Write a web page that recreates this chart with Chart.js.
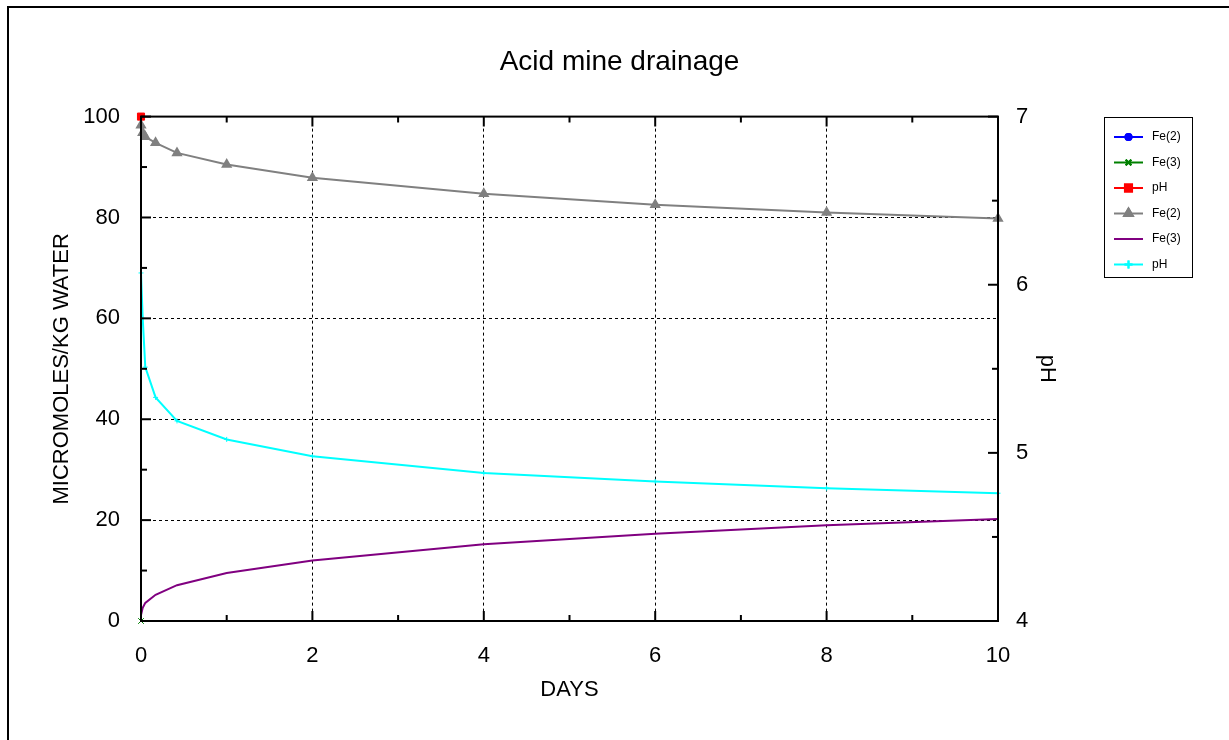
<!DOCTYPE html>
<html>
<head>
<meta charset="utf-8">
<script src="https://cdn.jsdelivr.net/npm/chart.js@4/dist/chart.umd.min.js"></script>
<style>
  html, body { margin: 0; padding: 0; background: #fff; }
  #wrap { width: 1229px; height: 740px; position: relative; }
</style>
</head>
<body>
<div id="wrap"><canvas id="chart"></canvas></div>
<script>
// data
var days = [0, 0.02, 0.05, 0.17, 0.42, 1, 2, 4, 6, 8, 10];
var fe2 = [98.3, 96.8, 96.0, 94.8, 92.8, 90.5, 87.9, 84.7, 82.5, 81.0, 79.8];
var fe3 = [1.2, 2.6, 3.6, 5.2, 7.1, 9.5, 12.0, 15.2, 17.3, 19.0, 20.2];
var ph = [6.07, 5.80, 5.51, 5.33, 5.19, 5.08, 4.98, 4.88, 4.83, 4.79, 4.76];
// initial values (single points at day 0)
var fe2Start = 100;
var fe3Start = 0;
var phStart = 7;

var xTicks = [0, 2, 4, 6, 8, 10];
var yTicks = [0, 20, 40, 60, 80, 100];
var y2Ticks = [4, 5, 6, 7];

function pts(xs, ys) {
    var out = [];
    for (var i = 0; i < xs.length; i++) out.push({ x: xs[i], y: ys[i] });
    return out;
}

var FONT = 'Liberation Sans, Arial, sans-serif';

// frame, inward ticks and the boxed legend
var gnuFrame = {
    id: 'gnuFrame',
    afterDraw: function (chart) {
        var ctx = chart.ctx;
        var a = chart.chartArea;
        var sx = chart.scales.x, sy = chart.scales.y, sy2 = chart.scales.y2;
        ctx.save();
        // outer page border
        ctx.strokeStyle = '#000';
        ctx.lineWidth = 2;
        ctx.beginPath();
        ctx.moveTo(8, 745);
        ctx.lineTo(8, 7);
        ctx.lineTo(1235, 7);
        ctx.stroke();

        ctx.lineWidth = 2;
        ctx.strokeRect(a.left, a.top, a.right - a.left, a.bottom - a.top);

        function hTick(v, len) {
            var px = sx.getPixelForValue(v);
            ctx.beginPath();
            ctx.moveTo(px, a.bottom); ctx.lineTo(px, a.bottom - len);
            ctx.moveTo(px, a.top); ctx.lineTo(px, a.top + len);
            ctx.stroke();
        }
        for (var v = 0; v <= 10; v++) hTick(v, v % 2 === 0 ? 10 : 6);
        for (var w = 0; w <= 100; w += 10) {
            var py = sy.getPixelForValue(w);
            var len = w % 20 === 0 ? 10 : 6;
            ctx.beginPath();
            ctx.moveTo(a.left, py); ctx.lineTo(a.left + len, py);
            ctx.stroke();
        }
        for (var p = 4; p <= 7; p += 0.5) {
            var py2 = sy2.getPixelForValue(p);
            var len2 = p % 1 === 0 ? 10 : 6;
            ctx.beginPath();
            ctx.moveTo(a.right, py2); ctx.lineTo(a.right - len2, py2);
            ctx.stroke();
        }

        // legend
        var lx = 1104, ly = 117, lw = 88, lh = 160;
        ctx.lineWidth = 1;
        ctx.strokeRect(lx + 0.5, ly + 0.5, lw, lh);
        ctx.font = '12px ' + FONT;
        ctx.textBaseline = 'middle';
        ctx.textAlign = 'left';
        chart.data.datasets.forEach(function (ds, i) {
            var yy = 137 + i * 25.5;
            ctx.strokeStyle = ds.borderColor;
            ctx.lineWidth = 2;
            ctx.beginPath();
            ctx.moveTo(1114, yy); ctx.lineTo(1143, yy);
            ctx.stroke();
            if (ds.legendMarker) {
                Chart.helpers.drawPoint(ctx, {
                    pointStyle: ds.pointStyle,
                    radius: ds.legendRadius || 4,
                    borderWidth: 1.5
                }, 1128.5, yy);
                ctx.fillStyle = ds.borderColor;
                ctx.fill();
                ctx.stroke();
            }
            ctx.fillStyle = '#000';
            ctx.fillText(ds.label, 1152, yy);
        });
        ctx.restore();
    }
};

var ctx = document.getElementById('chart').getContext('2d');
var chart = new Chart(ctx, {
    type: 'scatter',
    data: {
        datasets: [{
            label: 'Fe(2)',
            data: [{ x: 0, y: fe2Start }],
            yAxisID: 'y',
            order: 10,
            borderColor: '#0000ff',
            backgroundColor: '#0000ff',
            pointStyle: 'circle',
            pointRadius: 3,
            legendMarker: true, legendRadius: 3
        }, {
            label: 'Fe(3)',
            data: [{ x: 0, y: fe3Start }],
            yAxisID: 'y',
            borderColor: '#008000',
            backgroundColor: '#008000',
            pointStyle: 'crossRot',
            pointRadius: 4,
            pointBorderWidth: 1,
            legendMarker: true, legendRadius: 4
        }, {
            label: 'pH',
            data: [{ x: 0, y: phStart }],
            yAxisID: 'y2',
            borderColor: '#ff0000',
            backgroundColor: '#ff0000',
            pointStyle: 'rect',
            pointRadius: 5,
            legendMarker: true, legendRadius: 5
        }, {
            label: 'Fe(2)',
            data: pts(days, fe2),
            yAxisID: 'y',
            showLine: true,
            borderColor: '#808080',
            backgroundColor: '#808080',
            borderWidth: 2,
            pointStyle: 'triangle',
            pointRadius: 4.5,
            legendMarker: true, legendRadius: 5
        }, {
            label: 'Fe(3)',
            data: pts(days, fe3),
            yAxisID: 'y',
            showLine: true,
            borderColor: '#800080',
            backgroundColor: '#800080',
            borderWidth: 2,
            pointRadius: 0,
            legendMarker: false
        }, {
            label: 'pH',
            data: pts(days, ph),
            yAxisID: 'y2',
            showLine: true,
            borderColor: '#00ffff',
            backgroundColor: '#00ffff',
            borderWidth: 2,
            pointStyle: 'cross',
            pointRadius: 2.5,
            pointBorderWidth: 1,
            legendMarker: true, legendRadius: 4
        }]
    },
    options: {
        responsive: true,
        maintainAspectRatio: false,
        animation: false,
        clip: false,
        layout: { padding: { left: 10, right: 0, top: 0, bottom: 0 } },
        elements: { line: { tension: 0 } },
        plugins: {
            legend: { display: false },
            tooltip: { enabled: false },
            title: {
                display: true,
                text: 'Acid mine drainage',
                color: '#000',
                font: { family: FONT, size: 28, weight: 'normal' },
                padding: { top: 45, bottom: 38 }
            }
        },
        scales: {
            x: {
                type: 'linear',
                min: 0, max: 10,
                afterBuildTicks: function (s) { s.ticks = xTicks.map(function (v) { return { value: v }; }); },
                afterFit: function (s) { s.height = 119; },
                ticks: { color: '#000', font: { family: FONT, size: 22 }, padding: 22, maxRotation: 0 },
                grid: { color: '#000', lineWidth: 1, drawTicks: false },
                border: { display: false, dash: [3, 3] },
                title: { display: true, text: 'DAYS', color: '#000', font: { family: FONT, size: 22 }, padding: { top: 0, bottom: 37 } }
            },
            y: {
                type: 'linear',
                position: 'left',
                min: 0, max: 100,
                afterBuildTicks: function (s) { s.ticks = yTicks.map(function (v) { return { value: v }; }); },
                afterFit: function (s) { s.width = 131; },
                ticks: { color: '#000', font: { family: FONT, size: 22 }, padding: 21 },
                grid: { color: '#000', lineWidth: 1, drawTicks: false },
                border: { display: false, dash: [3, 3] },
                title: { display: true, text: 'MICROMOLES/KG WATER', color: '#000', font: { family: FONT, size: 22 }, padding: { top: 39, bottom: 0 } }
            },
            y2: {
                type: 'linear',
                position: 'right',
                min: 4, max: 7,
                afterBuildTicks: function (s) { s.ticks = y2Ticks.map(function (v) { return { value: v }; }); },
                afterFit: function (s) { s.width = 231; },
                ticks: { color: '#000', font: { family: FONT, size: 22 }, padding: 18 },
                grid: { display: false, drawTicks: false },
                border: { display: false },
                title: { display: true, text: 'pH', color: '#000', font: { family: FONT, size: 22 }, padding: { top: 169, bottom: 0 } }
            }
        }
    },
    plugins: [gnuFrame]
});
</script>
</body>
</html>
